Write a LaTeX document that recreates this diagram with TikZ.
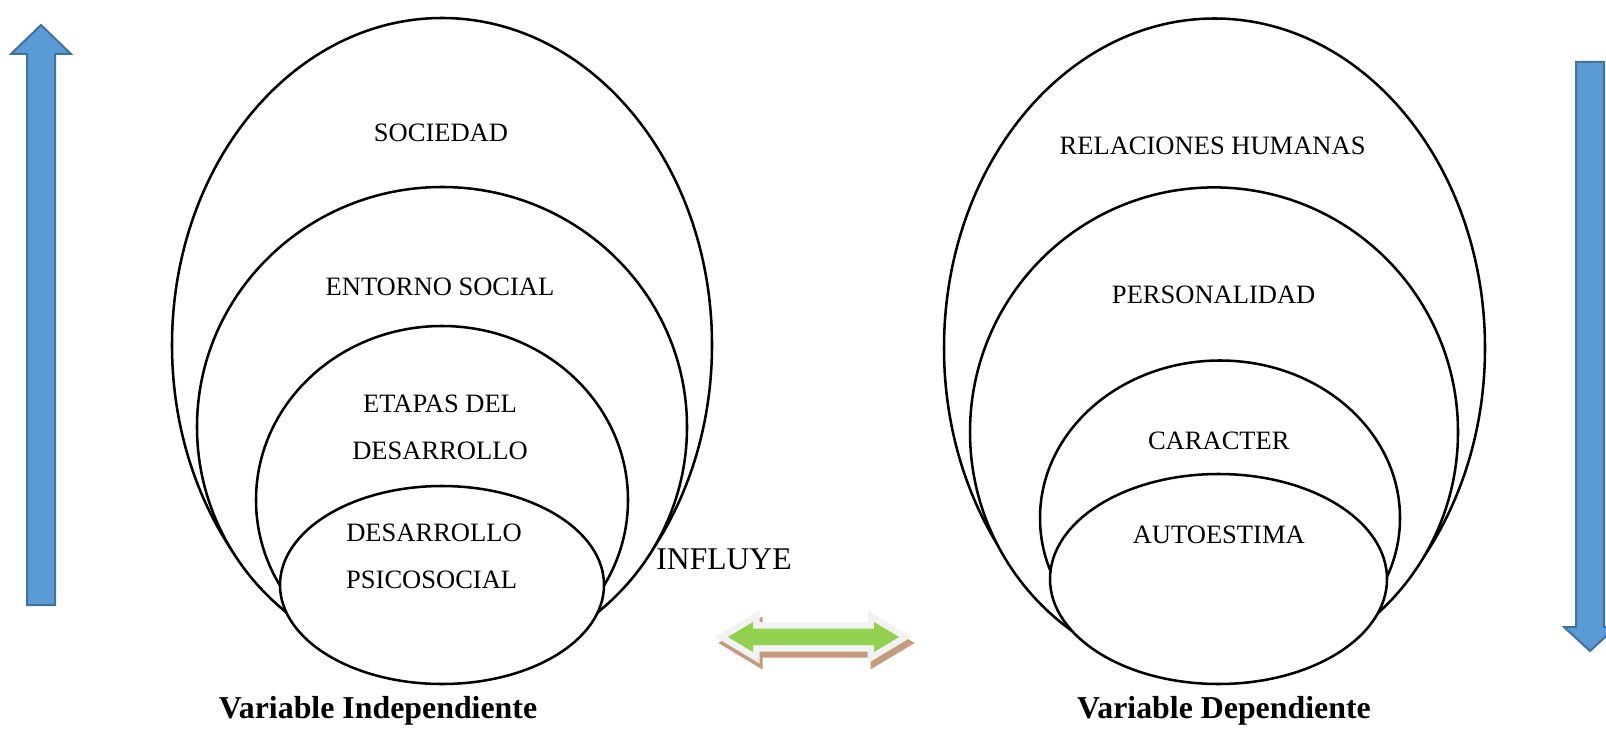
\documentclass[tikz,border=0pt]{standalone}
\usepackage{fontspec}
\setmainfont{Liberation Serif}
\definecolor{blueA}{HTML}{5B9BD5}
\definecolor{blueB}{HTML}{41719C}
\definecolor{greenA}{HTML}{92D050}
\definecolor{grayA}{HTML}{F2F2F2}
\definecolor{brownA}{HTML}{C49B7D}
\begin{document}
\begin{tikzpicture}[x=0.75pt,y=-0.75pt,
  oval/.style={draw=black,line width=1.9pt,fill=white},
  lbl/.style={font=\fontsize{19.9}{24}\selectfont,inner sep=0pt},
  big/.style={font=\fontsize{23.7}{28}\selectfont,inner sep=0pt},
  title/.style={font=\fontsize{23.9}{28}\selectfont\bfseries,inner sep=0pt},
  bluearrow/.style={fill=blueA,draw=blueB,line width=1.5pt,line join=miter}]
\useasboundingbox (0,0) rectangle (1606,731);
\fill[white] (0,0) rectangle (1606,731);

% left vertical arrow (up)
\draw[bluearrow] (27,605) -- (27,54) -- (11,54) -- (41,25) -- (71,54) -- (55,54) -- (55,605) -- cycle;
% right vertical arrow (down)
\draw[bluearrow] (1576,62) -- (1604,62) -- (1604,627) -- (1616,627) -- (1590,651) -- (1564,627) -- (1576,627) -- cycle;

% left nested ellipses
\draw[oval] (442,345) ellipse [x radius=270, y radius=327];
\draw[oval] (442,427) ellipse [x radius=245, y radius=240];
\draw[oval] (442,500) ellipse [x radius=186, y radius=174];
\draw[oval] (442,585) ellipse [x radius=162, y radius=99];

% right nested ellipses
\draw[oval] (1214.5,348) ellipse [x radius=270.5, y radius=329.5];
\draw[oval] (1214,432) ellipse [x radius=244, y radius=244.6];
\draw[oval] (1220,518) ellipse [x radius=180, y radius=157.5];
\draw[oval] (1218.5,579) ellipse [x radius=168.5, y radius=105];

% middle double arrow
\def\dblarrow{(728,637) -- (753,622) -- (753,628.5) -- (874,628.5) -- (874,622) -- (899,637) -- (874,652) -- (874,645) -- (753,645) -- (753,652) -- cycle}
\begin{scope}[shift={(3,6)}]
  \filldraw[brownA,line width=9.75pt,line join=miter] \dblarrow;
\end{scope}
\filldraw[grayA,line width=9.75pt,line join=miter] \dblarrow;
\fill[greenA] \dblarrow;

% labels
\node[lbl] (soc) at (441,133) {SOCIEDAD};
\node[lbl] (ent) at (440,287) {ENTORNO SOCIAL};
\node[lbl] (eta1) at (440,403.5) {ETAPAS DEL};
\node[lbl] (eta2) at (440,450.6) {DESARROLLO};
\node[lbl] (des1) at (434,532.6) {DESARROLLO};
\node[lbl] (des2) at (431.7,580) {PSICOSOCIAL};
\node[big] (inf) at (724,559) {INFLUYE};
\node[title] (vi) at (378,711) {Variable Independiente};

\node[lbl] (rel) at (1212.6,145.4) {RELACIONES HUMANAS};
\node[lbl] (per) at (1213.7,295) {PERSONALIDAD};
\node[lbl] (car) at (1218.8,440.4) {CARACTER};
\node[lbl] (aut) at (1218.8,534.6) {AUTOESTIMA};
\node[title] (vd) at (1224,711) {Variable Dependiente};
\end{tikzpicture}
\end{document}
